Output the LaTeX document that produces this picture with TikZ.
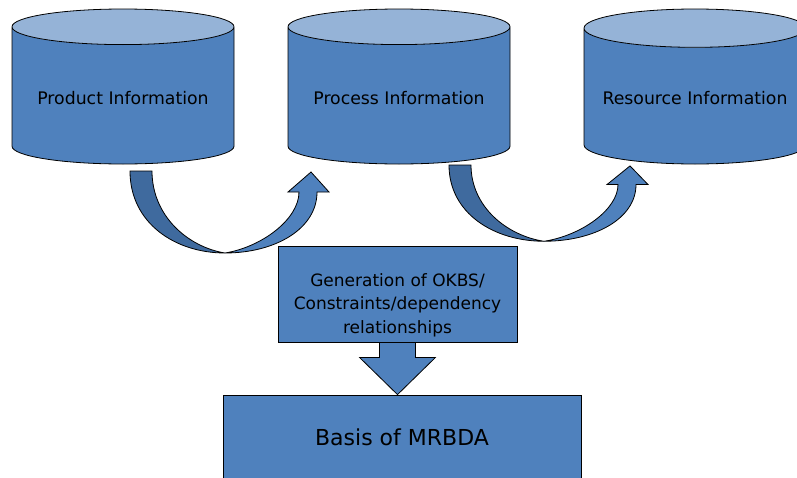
\documentclass[tikz,border=0pt]{standalone}
\usepackage{fontspec}
\setmainfont{DejaVu Sans}
\usetikzlibrary{shapes.geometric,calc}
\definecolor{boxblue}{HTML}{4F81BD}
\definecolor{topblue}{HTML}{95B3D7}
\definecolor{shadeblue}{HTML}{3F6A9E}
\tikzset{
  db/.style={cylinder, shape border rotate=90, draw=black, line width=0.8pt,
    cylinder uses custom fill, cylinder body fill=boxblue, cylinder end fill=topblue,
    minimum width=222pt, minimum height=155pt, aspect=0.2, anchor=shape center,
    font=\fontsize{17.3}{20}\selectfont, text height=12.6pt, text depth=0pt},
  blk/.style={draw=black, line width=0.8pt, fill=boxblue},
}
\newcommand{\bentarrow}[2]{%
  \begin{scope}[shift={(#1)}, yscale=#2]
    \draw[blk, fill=shadeblue] (0,0) -- (22,0) .. controls (22,45) and (58,76) .. (95,82)
      .. controls (45,82) and (0,52) .. (0,0) -- cycle;
    \draw[blk] (95,82) .. controls (132,76) and (169,48) .. (169,21) -- (158,21) -- (181,1)
      -- (199,21) -- (187,21) .. controls (187,58) and (145,82) .. (95,82) -- cycle;
  \end{scope}}

\begin{document}
\begin{tikzpicture}[x=1pt, y=-1pt]
\path[use as bounding box] (0,0) rectangle (797,477);
\clip (0,0) rectangle (797,477);
\node[db] (prod) at (123,86.5) {Product Information};
\node[db] (proc) at (399,86.5) {Process Information};
\node[db] (res) at (695,86.5) {Resource Information};
\coordinate (bend1) at (130,171);
\coordinate (bend2) at (449,165);
\bentarrow{bend1}{1}
\bentarrow{bend2}{0.93}
\node[blk, minimum width=239pt, minimum height=96pt] (gen) at (397.5,294) {};
\node[align=center, font=\fontsize{17}{23.5}\selectfont] (gentxt) at ([yshift=-11pt]gen.center)
  {Generation of OKBS/\\Constraints/dependency\\relationships};
\node[blk, minimum width=358pt, minimum height=84pt, font=\fontsize{22}{26}\selectfont] (basis) at (402,437) {Basis of MRBDA};
\draw[blk] ([xshift=-18pt]gen.south) -- ++(0,15) -- ++(-20,0) -- (gen.south |- basis.north)
  -- ($(gen.south)+(38,15)$) -- ++(-20,0) -- ++(0,-15) -- cycle;
\end{tikzpicture}
\end{document}
